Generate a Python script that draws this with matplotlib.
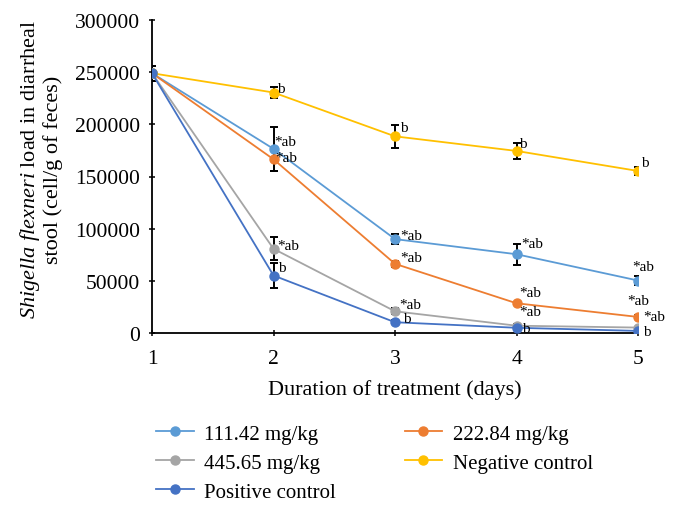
import matplotlib
matplotlib.use("Agg")
import matplotlib.pyplot as plt

plt.rcParams['font.family'] = ['Liberation Serif', 'DejaVu Serif']
plt.rcParams['mathtext.fontset'] = 'custom'
plt.rcParams['mathtext.rm'] = 'Liberation Serif'
plt.rcParams['mathtext.it'] = 'Liberation Serif:italic'

# days of treatment
days = [1, 2, 3, 4, 5]

# bacterial load (cell/g of feces) per group
dose_111 = [249000, 176500, 90000, 75500, 50300]
dose_222 = [249000, 166500, 66300, 28500, 15400]
dose_445 = [249000, 80700, 20800, 7000, 5200]
negative = [249000, 230500, 188500, 174500, 155300]
positive = [249000, 55100, 10300, 5000, 2000]

# error bars (+/-)
err_111 = [7000, 20800, 4600, 9900, 4600]
err_222 = [7000, 11500, 3000, 1500, 1500]
err_445 = [7000, 11200, 3000, 1500, 1000]
err_neg = [7000, 5600, 10900, 7700, 4000]
err_pos = [7000, 11700, 2000, 1000, 1000]

labels = ["111.42 mg/kg", "222.84 mg/kg", "445.65 mg/kg",
          "Negative control", "Positive control"]
colors = ["#5B9BD5", "#ED7D31", "#A5A5A5", "#FFC000", "#4472C4"]

# significance letters per point (day 1 has none)
sig_111 = ["", "*ab", "*ab", "*ab", "*ab"]
sig_222 = ["", "*ab", "*ab", "*ab", "*ab"]
sig_445 = ["", "*ab", "*ab", "*ab", "*ab"]
sig_neg = ["", "b", "b", "b", "b"]
sig_pos = ["", "b", "b", "b", "b"]

# text offsets (points) for the letters, per series
off_111 = [None, (0.5, 5), (4, 2.5), (3.5, 7.5), (-4, 10)]
off_222 = [None, (1.5, 1), (4, 4.5), (2, 7.5), (-8, 11.5)]
off_445 = [None, (3, 2.7), (3, 5), (1.7, 10.5), (3.5, 8.3)]
off_neg = [None, (2.5, 3), (3.5, 6.5), (2, 5), (2.5, 6)]
off_pos = [None, (3, 6), (6, 2.5), (4, -0.5), (3.5, -0.5)]

values = [dose_111, dose_222, dose_445, negative, positive]
errors = [err_111, err_222, err_445, err_neg, err_pos]
sigs = [sig_111, sig_222, sig_445, sig_neg, sig_pos]
offs = [off_111, off_222, off_445, off_neg, off_pos]

fig = plt.figure(figsize=(6.78, 5.10), dpi=100)
ax = fig.add_axes([152 / 678, 1 - 334 / 510, (638 - 152) / 678, (334 - 21) / 510])

handles = []
for vals, errs in zip(values, errors):
    ax.errorbar(days, vals, yerr=errs, fmt='none', ecolor='black',
                elinewidth=1.4, capsize=3, capthick=1.4, zorder=2)
for vals, col, lab in zip(values, colors, labels):
    h, = ax.plot(days, vals, color=col, lw=1.3, marker='o', ms=6.5,
                 label=lab, zorder=3)
    handles.append(h)

for vals, sg, of in zip(values, sigs, offs):
    for d, v, s, o in zip(days, vals, sg, of):
        if s:
            ax.annotate(s, (d, v), xytext=o, textcoords='offset points',
                        fontsize=11, ha='left', va='center', zorder=5)

ax.set_xlim(1, 5)
ax.set_ylim(0, 300000)
ax.set_xticks(days)
ax.set_yticks(range(0, 300001, 50000))
ax.spines['top'].set_visible(False)
ax.spines['right'].set_visible(False)
ax.spines['left'].set_linewidth(1.3)
ax.spines['bottom'].set_linewidth(1.3)
ax.tick_params(direction='inout', length=5, width=1.1, labelsize=15.5)
ax.tick_params(axis='y', pad=6)
ax.tick_params(axis='x', pad=9)

ax.set_xlabel("Duration of treatment (days)", fontsize=16, labelpad=8)
ax.set_ylabel("$\\it{Shigella\\ flexneri}$ load in diarrheal\nstool (cell/g of feces)",
              fontsize=16, linespacing=1.05)
ax.yaxis.set_label_coords(-0.183, 0.525)

# legend in two columns, filled column-first
order = [0, 2, 4, 1, 3]
fig.legend([handles[i] for i in order], [labels[i] for i in order],
           ncol=2, loc='upper left', bbox_to_anchor=(0.215, 0.187),
           frameon=False, fontsize=15, handlelength=1.8, handletextpad=0.5,
           columnspacing=3.3, labelspacing=0.45, borderpad=0)

fig.savefig("out.png", dpi=100)
